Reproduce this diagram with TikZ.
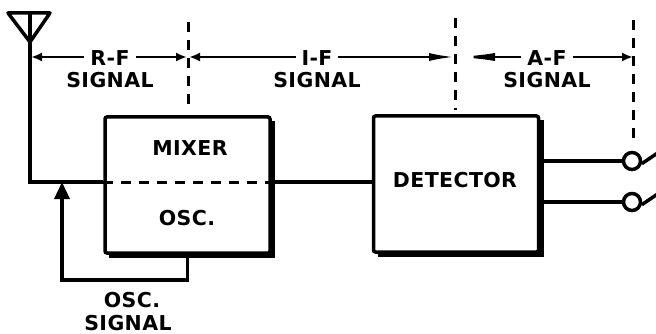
\documentclass[tikz,border=0pt]{standalone}
\usepackage{fontspec}
\setmainfont{DejaVu Sans}[LetterSpace=2.0]
\usetikzlibrary{arrows.meta}

\begin{document}
\begin{tikzpicture}[x=1pt, y=-1pt,
    block/.style ={draw, line width=3.5pt, rounded corners=2pt,
                   minimum width=165pt, minimum height=136pt, inner sep=0pt},
    lettering/.style ={font=\bfseries\fontsize{20.5}{22}\selectfont, inner sep=0pt},
    gap/.style ={fill=white, inner xsep=6pt},
    wire/.style ={line width=3.5pt},
    divider/.style ={line width=3pt, dash pattern=on 10pt off 8pt},
    jack/.style ={circle, draw, line width=3.5pt, minimum size=17pt, inner sep=0pt}]
   \useasboundingbox (0,0) rectangle (656,334);

   \node[block] (mixer)    at (187.5,185) {};
   \node[block] (detector) at (456,184)   {};
   \node[jack]  (jackA)    at (632,161)   {};
   \node[jack]  (jackB)    at (632,202)   {};

   \coordinate (aerial) at (30,42);
   \coordinate (tap)    at (30,182);
   \coordinate (inject) at (62,182);
   \coordinate (loop)   at (62,280);
   \coordinate (cutRF)  at (188,57);
   \coordinate (cutIF)  at (455,57);
   \coordinate (cutAF)  at (633,57);
   \coordinate (leadA)  at (662,150);
   \coordinate (leadB)  at (662,191);

   % shadows of the blocks
   \draw[line width=5pt] ([shift={(1pt,-6pt)}]mixer.north east) -- ([shift={(1pt,-1pt)}]mixer.south east) -- ([shift={(6pt,-1pt)}]mixer.south west);
   \draw[line width=5pt] ([shift={(1pt,-6pt)}]detector.north east) -- ([shift={(1pt,-1pt)}]detector.south east) -- ([shift={(6pt,-1pt)}]detector.south west);

   % antenna
   \draw[wire, line join=round] (8,13) -- (50,13) -- (aerial) -- cycle;
   \draw[wire] (30,13) -- (aerial) -- (tap) -- (mixer.west |- tap);
   \draw[divider] (mixer.west |- tap) -- (mixer.east |- tap);
   \draw[wire] (mixer.east |- tap) -- (detector.west |- tap);

   % oscillator feedback
   \draw[wire, -{Triangle[length=17pt,width=15pt]}] (mixer.south) |- (loop) -- (inject);

   % outputs
   \draw[wire] (detector.east |- jackA) -- (jackA);
   \draw[wire] (detector.east |- jackB) -- (jackB);
   \draw[wire] (jackA.-15) -- (leadA);
   \draw[wire] (jackB.-15) -- (leadB);

   % band limits
   \draw[divider] (188,22) -- (188,110);
   \draw[divider] (455,18) -- (455,110);
   \draw[divider] (633,20) -- (633,143);

   \draw[line width=2.5pt, {Latex[length=11pt,width=9pt]}-{Latex[length=11pt,width=9pt]}]
        ([xshift=1pt]aerial |- cutRF) -- ([xshift=-1pt]cutRF);
   \draw[line width=2.5pt, {Latex[length=11pt,width=9pt]}-{Latex[length=26pt,width=8pt]}]
        ([xshift=1pt]cutRF) -- (cutIF);
   \draw[line width=2.5pt, {Latex[length=40pt,width=8pt]}-{Latex[length=11pt,width=9pt]}]
        (cutIF) -- (cutAF);

   % labels
   \node[lettering, gap] (rf)   at (110,58.5) {R-F};
   \node[lettering]      (rfs)  at (110,80)   {SIGNAL};
   \node[lettering, gap] (if)   at (317,58.5) {I-F};
   \node[lettering]      (ifs)  at (317,80)   {SIGNAL};
   \node[lettering, gap] (af)   at (547,58.5) {A-F};
   \node[lettering]      (afs)  at (547,80)   {SIGNAL};
   \node[lettering] (mixtext)   at (190,148)  {MIXER};
   \node[lettering] (osctext)   at (187,218)  {OSC.};
   \node[lettering] (dettext)   at (455,180)  {DETECTOR};
   \node[lettering] (osc)       at (132,300)  {OSC.};
   \node[lettering] (oscs)      at (128,323)  {SIGNAL};
\end{tikzpicture}
\end{document}
